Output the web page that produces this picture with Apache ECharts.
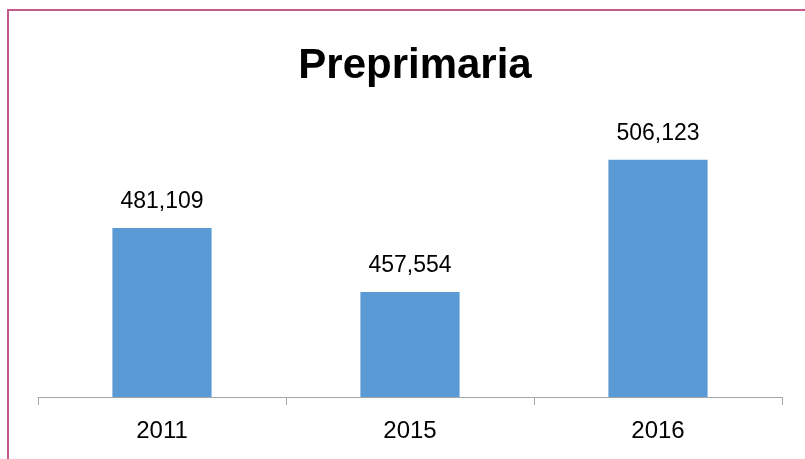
<!DOCTYPE html>
<html>
<head>
<meta charset="utf-8">
<script src="https://cdn.jsdelivr.net/npm/echarts@6/dist/echarts.min.js"></script>
<style>
  html, body { margin: 0; padding: 0; background: #fff; overflow: hidden; }
  #frame { position: absolute; left: 7px; top: 9px; width: 820px; height: 470px;
           border-top: 2px solid #C45A8C; border-left: 2px solid #C45A8C; }
  #chart { position: absolute; left: 0; top: 0; width: 805px; height: 459px; }
</style>
</head>
<body>
<div id="frame"></div>
<div id="chart"></div>
<script>
const titleText = 'Preprimaria';
const categories = ['2011', '2015', '2016'];
const values = [481109, 457554, 506123];

const chart = echarts.init(document.getElementById('chart'), null, { renderer: 'canvas' });
const fmt = v => v.toLocaleString('en-US');
chart.setOption({
  animation: false,
  backgroundColor: 'transparent',
  title: {
    text: titleText,
    left: 410,
    top: 40,
    textAlign: 'center',
    textStyle: { fontFamily: 'Liberation Sans', fontWeight: 'bold', fontSize: 42, color: '#000' }
  },
  grid: { left: 38, right: 23, top: 122, bottom: 62 },
  xAxis: {
    type: 'category',
    data: categories,
    axisLine: { lineStyle: { color: '#A6A6A6', width: 1 } },
    axisTick: { show: true, length: 8, alignWithLabel: false, lineStyle: { color: '#A6A6A6' } },
    axisLabel: { margin: 22, color: '#000', fontFamily: 'Liberation Sans', fontSize: 24 }
  },
  yAxis: {
    type: 'value',
    min: 419000,
    max: 520000,
    show: false,
    splitLine: { show: false }
  },
  series: [{
    type: 'bar',
    data: values,
    barWidth: '40%',
    itemStyle: { color: '#5B9BD5' },
    label: {
      show: true,
      position: 'top',
      distance: 15,
      color: '#000',
      fontFamily: 'Liberation Sans',
      fontSize: 23,
      formatter: p => fmt(p.value)
    }
  }]
});
</script>
</body>
</html>
